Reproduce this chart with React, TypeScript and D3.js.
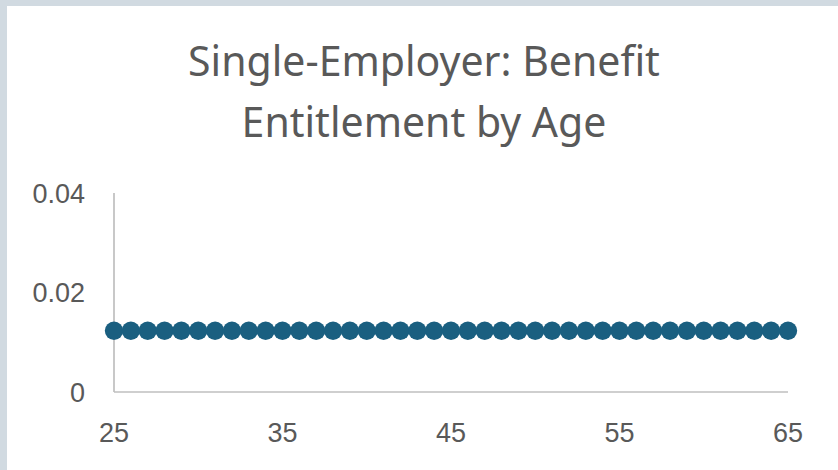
import React from "react";
import * as d3 from "d3";

const ages: number[] = [
  25, 26, 27, 28, 29, 30, 31, 32, 33, 34, 35, 36, 37, 38, 39, 40, 41, 42, 43, 44, 45,
  46, 47, 48, 49, 50, 51, 52, 53, 54, 55, 56, 57, 58, 59, 60, 61, 62, 63, 64, 65,
];
const entitlement: number[] = [
  0.0123, 0.0123, 0.0123, 0.0123, 0.0123, 0.0123, 0.0123, 0.0123, 0.0123, 0.0123,
  0.0123, 0.0123, 0.0123, 0.0123, 0.0123, 0.0123, 0.0123, 0.0123, 0.0123, 0.0123,
  0.0123, 0.0123, 0.0123, 0.0123, 0.0123, 0.0123, 0.0123, 0.0123, 0.0123, 0.0123,
  0.0123, 0.0123, 0.0123, 0.0123, 0.0123, 0.0123, 0.0123, 0.0123, 0.0123, 0.0123,
  0.0123,
];
const xTicks: number[] = [25, 35, 45, 55, 65];
const yTicks: number[] = [0, 0.02, 0.04];
const yTickLabels: string[] = ["0", "0.02", "0.04"];
const titleLines: string[] = ["Single-Employer: Benefit", "Entitlement by Age"];

export default function App() {
  const W = 838;
  const H = 470;
  const x = d3.scaleLinear().domain([25, 65]).range([114, 788]);
  const y = d3.scaleLinear().domain([0, 0.04]).range([392, 193]);
  const textColor = "#595959";
  const axisColor = "#bfbfbf";

  return (
    <svg
      width={W}
      height={H}
      style={{ position: "fixed", left: 0, top: 0, display: "block" }}
    >
      <rect x={0} y={0} width={W} height={H} fill="#d1dae1" />
      <rect x={7} y={6} width={W - 7} height={H - 6} fill="#ffffff" />
      {titleLines.map((t, i) => (
        <text
          key={i}
          x={424}
          y={76 + i * 61}
          textAnchor="middle"
          fontFamily="'Noto Sans', sans-serif"
          fontSize={41}
          fill={textColor}
        >
          {t}
        </text>
      ))}
      <line x1={x(25)} x2={x(25)} y1={y(0.04)} y2={y(0)} stroke={axisColor} strokeWidth={1.7} />
      <line x1={x(25)} x2={x(65)} y1={y(0)} y2={y(0)} stroke={axisColor} strokeWidth={1.7} />
      {yTicks.map((v, i) => (
        <text
          key={v}
          x={85}
          y={y(v) + 9.5}
          textAnchor="end"
          fontFamily="'Liberation Sans', Arial, sans-serif"
          fontSize={27}
          fill={textColor}
        >
          {yTickLabels[i]}
        </text>
      ))}
      {xTicks.map((v) => (
        <text
          key={v}
          x={x(v)}
          y={442}
          textAnchor="middle"
          fontFamily="'Liberation Sans', Arial, sans-serif"
          fontSize={27}
          fill={textColor}
        >
          {v}
        </text>
      ))}
      {ages.map((a, i) => (
        <circle key={a} cx={x(a)} cy={y(entitlement[i])} r={9.2} fill="#1a5f80" />
      ))}
    </svg>
  );
}
